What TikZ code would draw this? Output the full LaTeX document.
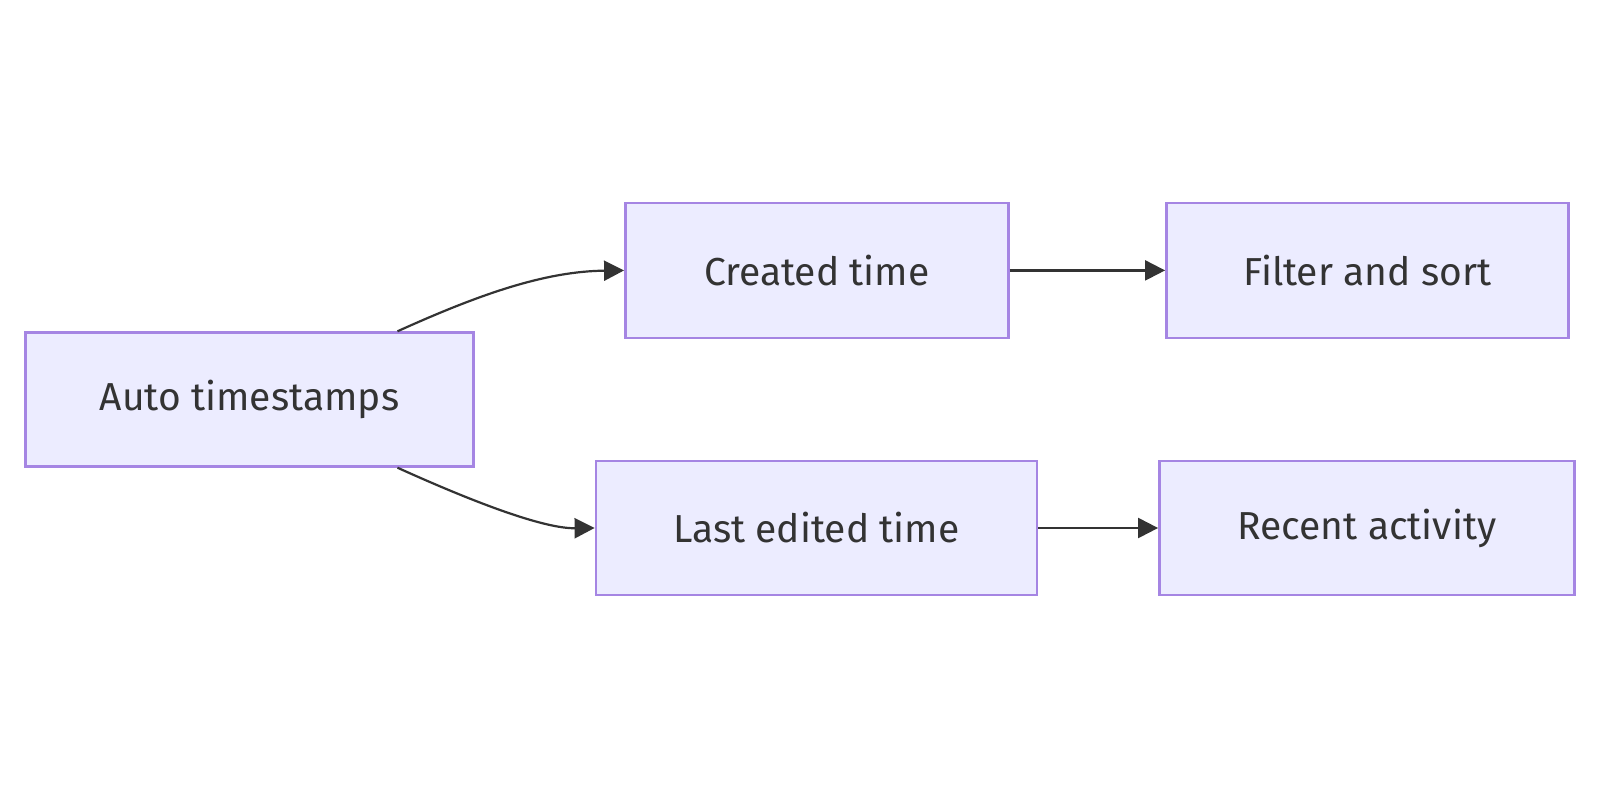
\documentclass[tikz,border=0pt]{standalone}
\usepackage{fontspec}
\setmainfont{Fira Sans}
\usetikzlibrary{arrows.meta}
\definecolor{boxfill}{HTML}{ECECFF}
\definecolor{boxdraw}{HTML}{A585E3}
\definecolor{ink}{HTML}{333333}
\tikzset{
  box/.style={draw=boxdraw, fill=boxfill, line width=2.4pt, rectangle, inner sep=0pt, text=ink, font=\fontsize{39}{44}\selectfont},
  link/.style={draw=ink, line width=2.2pt, -{Triangle[length=20pt,width=20pt]}}
}
\begin{document}
\begin{tikzpicture}[x=1pt,y=-1pt]
\useasboundingbox (0,0) rectangle (1600,800);
\node[box, minimum width=448pt, minimum height=134pt] (auto) at (249.5,399.5) {Auto timestamps};
\node[box, minimum width=383pt, minimum height=135pt] (created) at (816.8,270.4) {Created time};
\node[box, minimum width=402pt, minimum height=135pt] (filter) at (1367.3,270.4) {Filter and sort};
\node[box, minimum width=441pt, minimum height=134pt] (edited) at (816.3,528) {Last edited time};
\node[box, minimum width=415pt, minimum height=134pt] (recent) at (1366.8,528) {Recent activity};
\coordinate (a1) at ([xshift=148pt]auto.north);
\coordinate (a2) at ([xshift=148pt]auto.south);
\draw[link] (a1) .. controls (480,294) and (545,271.4) .. (created.west);
\draw[link] (a2) .. controls (480,505) and (545,528.6) .. (edited.west);
\draw[link] (created.east) -- (filter.west);
\draw[link] (edited.east) -- (recent.west);
\end{tikzpicture}
\end{document}
